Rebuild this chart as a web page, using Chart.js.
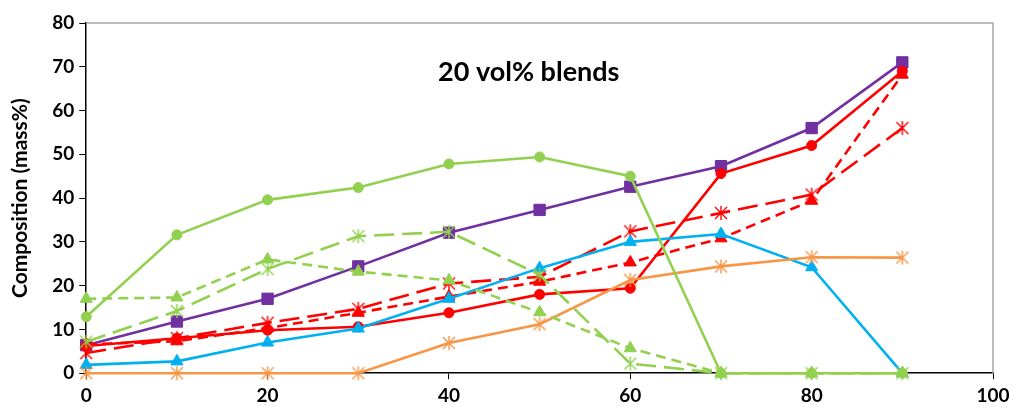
<!DOCTYPE html>
<html>
<head>
<meta charset="utf-8">
<script src="https://cdn.jsdelivr.net/npm/chart.js@4"></script>
<style>
  html, body { margin: 0; padding: 0; background: #fff; }
  #wrap { width: 1015px; height: 413px; }
</style>
</head>
<body>
<div id="wrap"><canvas id="chart"></canvas></div>
<script>
// x positions (vol%)
const xValues = [0, 10, 20, 30, 40, 50, 60, 70, 80, 90];

// series values
const greenCircle = [12.9, 31.6, 39.6, 42.4, 47.8, 49.4, 45.0, 0, 0, 0];
const greenTriangle = [17.0, 17.3, 26.0, 23.2, 21.2, 13.9, 5.7, 0, 0, 0];
const greenStar = [7.2, 14.2, 23.8, 31.3, 32.3, 22.5, 2.2, 0, 0, 0];
const purpleSquare = [6.4, 11.8, 17.0, 24.4, 32.1, 37.3, 42.6, 47.3, 56.0, 71.0];
const redCircle = [6.2, 8.0, 9.8, 10.6, 13.8, 18.0, 19.4, 45.6, 52.0, 69.0];
const redTriangle = [6.6, 7.3, 10.3, 13.8, 17.5, 20.9, 25.3, 30.8, 39.4, 68.2];
const redStar = [4.6, 8.0, 11.5, 14.7, 20.5, 22.0, 32.4, 36.6, 40.8, 56.0];
const blueTriangle = [1.9, 2.7, 7.0, 10.2, 17.0, 24.0, 30.0, 31.8, 24.2, 0];
const orangeStar = [0, 0, 0, 0, 6.9, 11.2, 21.3, 24.4, 26.5, 26.4];

const yTicks = [0, 10, 20, 30, 40, 50, 60, 70, 80];
const xTicks = [0, 20, 40, 60, 80, 100];

const GREEN = '#92D050';
const PURPLE = '#7030A0';
const RED = '#FF0000';
const BLUE = '#00B0F0';
const ORANGE = '#F79646';
const FONT = 'Lato, "Open Sans", sans-serif';

// Excel style asterisk marker (X with a vertical bar)
function makeAsterisk(color) {
    const c = document.createElement('canvas');
    c.width = 16; c.height = 16;
    const g = c.getContext('2d');
    g.strokeStyle = color;
    g.lineWidth = 1.4;
    g.beginPath();
    g.moveTo(2, 2); g.lineTo(14, 14);
    g.moveTo(14, 2); g.lineTo(2, 14);
    g.moveTo(8, 1); g.lineTo(8, 15);
    g.stroke();
    return c;
}

function pts(arr) {
    return arr.map((v, i) => ({ x: xValues[i], y: v }));
}

function series(data, color, style, dash, radius) {
    return {
        data: pts(data),
        borderColor: color,
        backgroundColor: color,
        borderWidth: 2.6,
        borderDash: dash,
        pointStyle: style,
        pointRadius: radius,
        pointBorderWidth: 1,
        pointBorderColor: color,
        pointBackgroundColor: color,
        tension: 0,
        clip: false
    };
}

const frameAndTitle = {
    id: 'frameAndTitle',
    beforeDatasetsDraw(chart) {
        const { ctx, chartArea: a } = chart;
        ctx.save();
        ctx.strokeStyle = '#A6A6A6';
        ctx.lineWidth = 1.5;
        ctx.beginPath();
        ctx.moveTo(a.left, a.top);
        ctx.lineTo(a.right, a.top);
        ctx.lineTo(a.right, a.bottom);
        ctx.stroke();
        ctx.restore();
    },
    afterDraw(chart) {
        const { ctx, scales } = chart;
        ctx.save();
        ctx.fillStyle = '#000';
        ctx.font = 'bold 27px ' + FONT;
        ctx.textAlign = 'center';
        ctx.textBaseline = 'middle';
        ctx.fillText('20 vol% blends', scales.x.getPixelForValue(48.8), scales.y.getPixelForValue(68.8));
        ctx.restore();
    }
};

const ctx = document.getElementById('chart').getContext('2d');

new Chart(ctx, {
    type: 'line',
    data: {
        datasets: [
            series(greenCircle, GREEN, 'circle', [], 5),
            series(greenTriangle, GREEN, 'triangle', [10, 6], 7),
            series(greenStar, GREEN, makeAsterisk(GREEN), [20, 8], 8),
            series(orangeStar, ORANGE, makeAsterisk(ORANGE), [], 8),
            series(blueTriangle, BLUE, 'triangle', [], 7),
            series(redStar, RED, makeAsterisk(RED), [20, 8], 8),
            series(redTriangle, RED, 'triangle', [10, 6], 7),
            series(redCircle, RED, 'circle', [], 5),
            series(purpleSquare, PURPLE, 'rect', [], 8)
        ]
    },
    options: {
        responsive: true,
        maintainAspectRatio: false,
        animation: false,
        layout: { padding: { top: 23, right: 22, bottom: 1, left: 8 } },
        plugins: {
            legend: { display: false },
            tooltip: { enabled: false }
        },
        scales: {
            x: {
                type: 'linear',
                min: 0,
                max: 100,
                afterBuildTicks: (s) => { s.ticks = xTicks.map(v => ({ value: v })); },
                grid: { drawOnChartArea: false, drawTicks: true, tickLength: 6, color: '#000' },
                border: { color: '#000', width: 1.5 },
                ticks: {
                    color: '#000',
                    padding: 5,
                    font: { family: FONT, size: 19, weight: 'bold' }
                }
            },
            y: {
                min: 0,
                max: 80,
                afterBuildTicks: (s) => { s.ticks = yTicks.map(v => ({ value: v })); },
                grid: { drawOnChartArea: false, drawTicks: true, tickLength: 7, color: '#000' },
                border: { color: '#000', width: 1.5 },
                ticks: {
                    color: '#000',
                    padding: 5,
                    font: { family: FONT, size: 19, weight: 'bold' }
                },
                title: {
                    display: true,
                    text: 'Composition (mass%)',
                    color: '#000',
                    padding: { top: 0, bottom: 14 },
                    font: { family: FONT, size: 21, weight: 'bold' }
                }
            }
        }
    },
    plugins: [frameAndTitle]
});
</script>
</body>
</html>
